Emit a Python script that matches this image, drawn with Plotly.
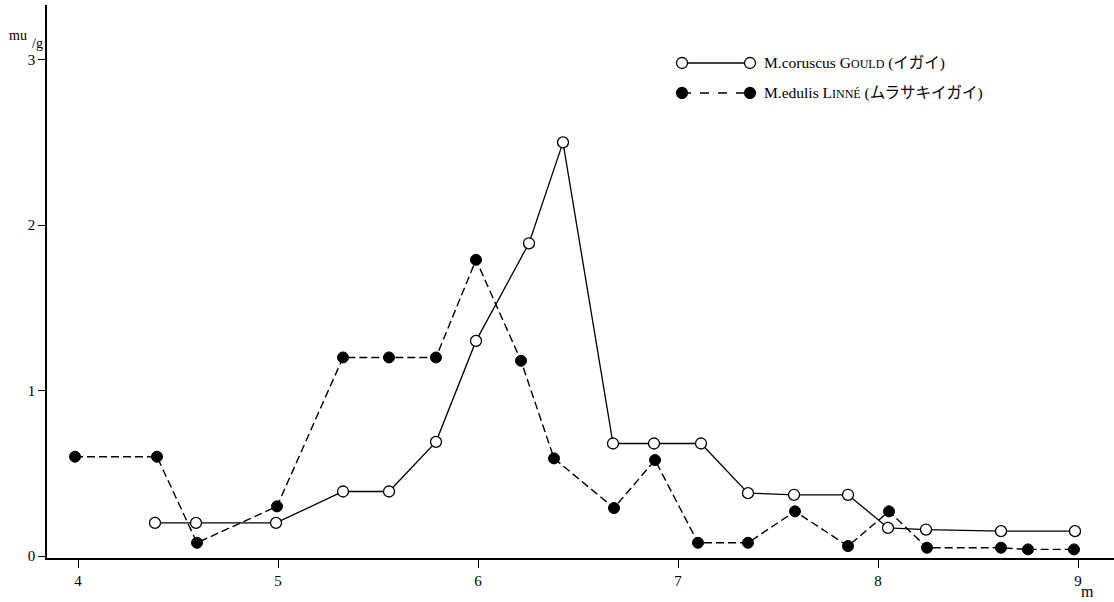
import plotly.graph_objects as go

# Data (x: month, y: mu/g)
coruscus_x = [4.385, 4.59, 4.99, 5.325, 5.555, 5.79, 5.99, 6.255, 6.425, 6.675,
              6.88, 7.115, 7.35, 7.58, 7.85, 8.05, 8.24, 8.615, 8.985]
coruscus_y = [0.20, 0.20, 0.20, 0.39, 0.39, 0.69, 1.30, 1.89, 2.50, 0.68,
              0.68, 0.68, 0.38, 0.37, 0.37, 0.17, 0.16, 0.15, 0.15]

edulis_x = [3.985, 4.395, 4.595, 4.995, 5.325, 5.555, 5.79, 5.99, 6.215, 6.38,
            6.68, 6.885, 7.10, 7.35, 7.585, 7.85, 8.055, 8.245, 8.615, 8.75, 8.98]
edulis_y = [0.60, 0.60, 0.08, 0.30, 1.20, 1.20, 1.20, 1.79, 1.18, 0.59,
            0.29, 0.58, 0.08, 0.08, 0.27, 0.06, 0.27, 0.05, 0.05, 0.04, 0.04]

x_ticks = [4, 5, 6, 7, 8, 9]
y_ticks = [0, 1, 2, 3]

legend_coruscus = ("M.coruscus G<span style='font-size:12px'>OULD</span> (イガイ)")
legend_edulis = ("M.edulis L<span style='font-size:12px'>INNÉ</span> (ムラサキイガイ)")

FONT = "Liberation Serif, Noto Sans CJK JP, serif"
W, H = 1114, 602
L, R, T, B = 47, 0, 5, 44


def px(xp):
    return (xp - L) / (W - L - R)


def py(yp):
    return (H - B - yp) / (H - T - B)


fig = go.Figure()
fig.add_trace(go.Scatter(
    x=edulis_x, y=edulis_y, mode="lines+markers",
    line=dict(color="black", width=1.4, dash="8px,4px"),
    marker=dict(symbol="circle", size=11, color="black",
                line=dict(color="black", width=1)),
    showlegend=False, cliponaxis=False))
fig.add_trace(go.Scatter(
    x=coruscus_x, y=coruscus_y, mode="lines+markers",
    line=dict(color="black", width=1.3),
    marker=dict(symbol="circle", size=11, color="white",
                line=dict(color="black", width=1.3)),
    showlegend=False, cliponaxis=False))

shapes = []
annotations = []
# legend rows (layout decoration)
rows = [(63, "solid", "white", legend_coruscus), (93, "dash", "black", legend_edulis)]
for yy, dash, fill, label in rows:
    shapes.append(dict(type="line", xref="paper", yref="paper",
                       x0=px(682), x1=px(750), y0=py(yy), y1=py(yy),
                       line=dict(color="black", width=1.4, dash=dash)))
    for cx in (682, 750):
        shapes.append(dict(type="circle", xref="paper", yref="paper",
                           xsizemode="pixel", ysizemode="pixel",
                           xanchor=px(cx), yanchor=py(yy),
                           x0=-5.5, x1=5.5, y0=-5.5, y1=5.5,
                           fillcolor=fill, line=dict(color="black", width=1.3)))
    annotations.append(dict(xref="paper", yref="paper", x=px(762), y=py(yy),
                            xanchor="left", yanchor="middle", showarrow=False,
                            text=label, font=dict(family=FONT, size=15.5, color="black")))

annotations.append(dict(xref="paper", yref="paper", x=px(18), y=py(36),
                        xanchor="center", yanchor="middle", showarrow=False,
                        text="mu", font=dict(family=FONT, size=14, color="black")))
annotations.append(dict(xref="paper", yref="paper", x=px(37), y=py(43),
                        xanchor="center", yanchor="middle", showarrow=False,
                        text="/g", font=dict(family=FONT, size=14, color="black")))
annotations.append(dict(xref="paper", yref="paper", x=px(1087), y=py(591),
                        xanchor="center", yanchor="middle", showarrow=False,
                        text="m", font=dict(family=FONT, size=16, color="black")))

fig.update_layout(
    width=W, height=H,
    margin=dict(l=L, r=R, t=T, b=B),
    paper_bgcolor="white", plot_bgcolor="white",
    font=dict(family=FONT, size=15, color="black"),
    shapes=shapes, annotations=annotations,
    xaxis=dict(range=[3.845, 9.18], tickmode="array", tickvals=x_ticks,
               ticktext=[str(v) for v in x_ticks],
               showgrid=False, zeroline=False, showline=True,
               linecolor="black", linewidth=1.5,
               ticks="outside", ticklen=8, tickwidth=1, tickcolor="black",
               tickfont=dict(family=FONT, size=15)),
    yaxis=dict(range=[-0.012, 3.33], tickmode="array", tickvals=y_ticks,
               ticktext=[str(v) for v in y_ticks],
               showgrid=False, zeroline=False, showline=True,
               linecolor="black", linewidth=1.5,
               ticks="outside", ticklen=7, tickwidth=1, tickcolor="black",
               tickfont=dict(family=FONT, size=15)),
)

fig.write_html("out.html", config={"displayModeBar": False},
               post_script="document.body.style.margin='0';")
